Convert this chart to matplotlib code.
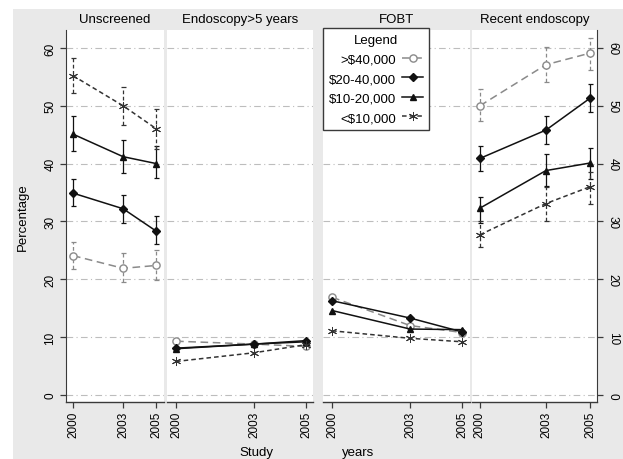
import numpy as np
import matplotlib
matplotlib.use("Agg")
import matplotlib.pyplot as plt
from matplotlib.patches import Rectangle

plt.rcParams['font.family'] = ['Liberation Sans', 'DejaVu Sans']

# survey years
years = [2000, 2003, 2005]

panels = ["Unscreened", "Endoscopy>5 years", "FOBT", "Recent endoscopy"]
groups = [">$40,000", "$20-40,000", "$10-20,000", "<$10,000"]

# percentage by income group, one list per panel
unscreened = {
    ">$40,000": [24.1, 21.9, 22.4],
    "$20-40,000": [34.9, 32.2, 28.3],
    "$10-20,000": [45.1, 41.2, 40.0],
    "<$10,000": [55.2, 50.0, 46.0],
}
unscreened_lo = {
    ">$40,000": [21.8, 19.5, 19.8],
    "$20-40,000": [32.7, 29.7, 26.1],
    "$10-20,000": [42.2, 38.3, 37.5],
    "<$10,000": [52.2, 46.7, 42.5],
}
unscreened_hi = {
    ">$40,000": [26.5, 24.6, 25.0],
    "$20-40,000": [37.4, 34.6, 31.0],
    "$10-20,000": [48.3, 44.0, 43.1],
    "<$10,000": [58.2, 53.2, 49.5],
}

endo_old = {
    ">$40,000": [9.3, 8.8, 8.4],
    "$20-40,000": [8.1, 8.8, 9.4],
    "$10-20,000": [8.0, 8.8, 9.2],
    "<$10,000": [5.8, 7.3, 8.7],
}

fobt = {
    ">$40,000": [16.9, 12.0, 10.8],
    "$20-40,000": [16.3, 13.3, 10.9],
    "$10-20,000": [14.6, 11.4, 11.3],
    "<$10,000": [11.1, 9.8, 9.2],
}

recent = {
    ">$40,000": [50.0, 57.1, 59.1],
    "$20-40,000": [40.9, 45.8, 51.3],
    "$10-20,000": [32.3, 38.8, 40.1],
    "<$10,000": [27.7, 33.1, 36.0],
}
recent_lo = {
    ">$40,000": [47.3, 54.1, 56.1],
    "$20-40,000": [38.8, 43.4, 49.0],
    "$10-20,000": [29.7, 36.2, 37.3],
    "<$10,000": [25.5, 30.0, 33.0],
}
recent_hi = {
    ">$40,000": [52.9, 60.1, 61.7],
    "$20-40,000": [43.1, 48.3, 53.8],
    "$10-20,000": [34.3, 41.7, 42.7],
    "<$10,000": [30.0, 36.0, 38.5],
}

panel_data = [
    (unscreened, unscreened_lo, unscreened_hi),
    (endo_old, None, None),
    (fobt, None, None),
    (recent, recent_lo, recent_hi),
]

styles = {
    ">$40,000": dict(color="#8a8a8a", ls=(0, (5, 3)), marker="o", mfc="white", ms=5.2, mew=1.0),
    "$20-40,000": dict(color="#111111", ls="-", marker="D", mfc="#111111", ms=4.0, mew=1.0),
    "$10-20,000": dict(color="#111111", ls="-", marker="^", mfc="#111111", ms=5.0, mew=1.0),
    "<$10,000": dict(color="#333333", ls=(0, (3, 2)), marker=(6, 2, 0), mfc="#333333", ms=6.5, mew=0.7),
}

W, H = 623, 460
fig = plt.figure(figsize=(W / 100, H / 100), dpi=100, facecolor="white")
fig.patches.append(Rectangle((13 / W, 0), 1, 1 - 10 / H, transform=fig.transFigure,
                             facecolor="#e9e9e9", edgecolor="none", zorder=-10))

# panel extents in pixels (left, right) and x limits
boxes = [(66, 164), (167, 313), (323, 470), (472, 597)]
xlims = [(1999.58, 2005.45), (1999.65, 2005.27), (1999.65, 2005.30), (1999.64, 2005.32)]
top_px, bot_px = 31, 403
ylim = (-1.21, 63.1)

axes = []
for i, ((x0, x1), title) in enumerate(zip(boxes, panels)):
    ax = fig.add_axes([x0 / W, 1 - bot_px / H, (x1 - x0) / W, (bot_px - top_px) / H])
    ax.set_facecolor("white")
    ax.set_xlim(*xlims[i])
    ax.set_ylim(*ylim)
    for yy in range(0, 61, 10):
        ax.axhline(yy, color="#bdbdbd", lw=0.8, ls=(0, (6, 3, 1, 3)), zorder=0)

    vals, lo, hi = panel_data[i]
    for g in groups:
        st = styles[g]
        y = np.array(vals[g])
        ax.plot(years, y, color=st["color"], ls=st["ls"], lw=1.1, marker=st["marker"],
                mfc=st["mfc"], mec=st["color"], ms=st["ms"], mew=st["mew"], zorder=3)
        if lo is not None:
            err = [y - np.array(lo[g]), np.array(hi[g]) - y]
            eb = ax.errorbar(years, y, yerr=err, fmt="none", ecolor=st["color"],
                             elinewidth=0.9, capsize=1.8, capthick=0.9, zorder=2)
            if st["ls"] != "-":
                eb[2][0].set_linestyle((0, (3, 2)))

    for s in ("top", "left", "right"):
        ax.spines[s].set_visible(False)
    ax.spines["bottom"].set_color("#3a3a3a")
    ax.spines["bottom"].set_linewidth(1.0)
    ax.set_xticks(years)
    ax.set_xticklabels([str(y) for y in years], rotation=90, fontsize=8.5)
    ax.tick_params(axis="x", direction="out", length=4, width=0.9, color="#3a3a3a", pad=2)
    ax.set_yticks(range(0, 61, 10))
    if i == 0:
        ax.spines["left"].set_visible(True)
        ax.spines["left"].set_color("#3a3a3a")
        ax.tick_params(axis="y", direction="out", length=4, width=0.9, color="#3a3a3a", pad=3)
        for t in ax.get_yticklabels():
            t.set_rotation(90)
            t.set_va("center")
            t.set_fontsize(8.5)
    elif i == 3:
        ax.spines["right"].set_visible(True)
        ax.spines["right"].set_color("#3a3a3a")
        ax.yaxis.tick_right()
        ax.tick_params(axis="y", direction="out", length=4, width=0.9, color="#3a3a3a", pad=3)
        for t in ax.get_yticklabels():
            t.set_rotation(-90)
            t.set_va("center")
            t.set_fontsize(8.5)
    else:
        ax.tick_params(axis="y", left=False, labelleft=False)

    fig.text(((x0 + x1) / 2) / W, 1 - 20 / H, title, ha="center", va="center", fontsize=9.5)
    axes.append(ax)

# legend inside the FOBT panel
handles = []
for g in groups:
    st = styles[g]
    h, = axes[2].plot([], [], color=st["color"], ls=st["ls"], lw=1.1, marker=st["marker"],
                      mfc=st["mfc"], mec=st["color"], ms=st["ms"], mew=st["mew"])
    handles.append(h)
leg = axes[2].legend(handles, groups, title="Legend", loc="upper left",
                     bbox_to_anchor=(0, 1.005), borderaxespad=0, markerfirst=False,
                     fontsize=9.5, title_fontsize=9.5, handlelength=1.6,
                     handletextpad=0.45, labelspacing=0.55, borderpad=0.45,
                     fancybox=False, framealpha=1, edgecolor="#3a3a3a")
leg.get_frame().set_linewidth(1.0)
leg.set_zorder(10)

fig.text(23 / W, 1 - 217 / H, "Percentage", rotation=90, ha="center", va="center", fontsize=9.5)
fig.text(256 / W, 1 - 453 / H, "Study", ha="center", va="center", fontsize=9.5)
fig.text(358 / W, 1 - 453 / H, "years", ha="center", va="center", fontsize=9.5)

fig.savefig("out.png", dpi=100, facecolor=fig.get_facecolor())
